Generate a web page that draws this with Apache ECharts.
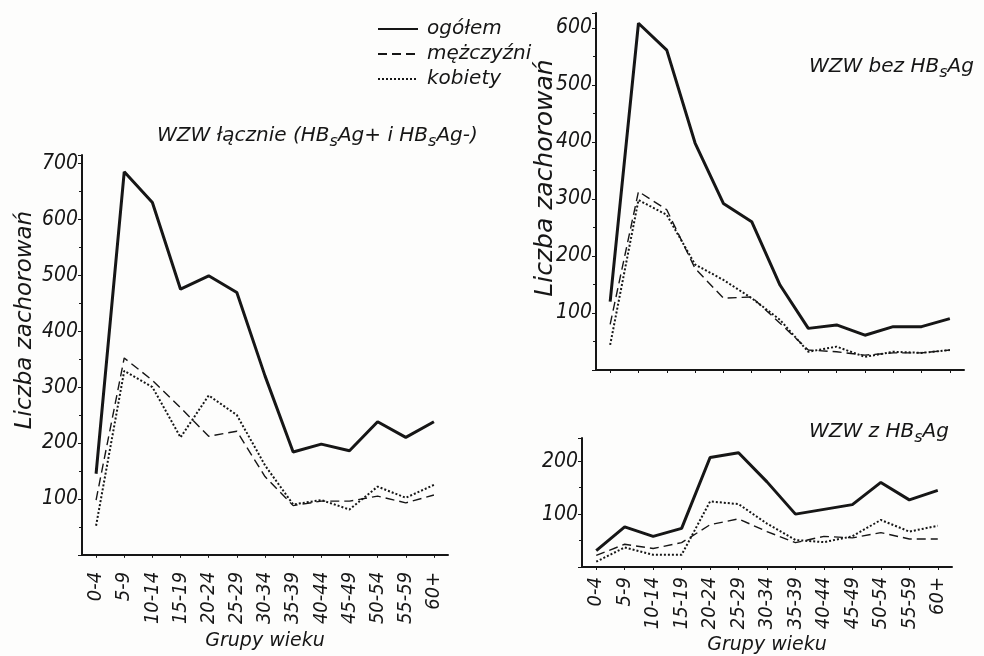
<!DOCTYPE html>
<html>
<head>
<meta charset="utf-8">
<script src="https://cdn.jsdelivr.net/npm/echarts@6/dist/echarts.min.js"></script>
<style>
  html, body { margin: 0; padding: 0; background: #fdfdfc; }
  #chart { width: 984px; height: 656px; }
</style>
</head>
<body>
<div id="chart"></div>
<script>
const ageGroups = ['0-4', '5-9', '10-14', '15-19', '20-24', '25-29', '30-34', '35-39', '40-44', '45-49', '50-54', '55-59', '60+']

// WZW łącznie
const totalAll = [145, 685, 630, 475, 499, 469, 320, 184, 198, 186, 238, 210, 238]
const menAll = [98, 352, 312, 263, 212, 221, 140, 88, 96, 96, 105, 93, 107]
const womenAll = [52, 329, 300, 210, 285, 250, 160, 90, 98, 81, 122, 102, 125]

// WZW bez HBsAg
const totalNeg = [120, 608, 561, 398, 292, 260, 149, 73, 79, 61, 76, 76, 90]
const menNeg = [80, 313, 281, 178, 126, 128, 82, 35, 32, 26, 30, 30, 35]
const womenNeg = [44, 298, 272, 185, 158, 126, 88, 32, 41, 23, 32, 30, 35]

// WZW z HBsAg
const totalPos = [31, 76, 58, 73, 207, 216, 161, 100, 109, 118, 160, 127, 145]
const menPos = [22, 43, 35, 46, 80, 91, 67, 46, 58, 55, 65, 53, 53]
const womenPos = [10, 37, 23, 23, 124, 119, 82, 51, 47, 58, 89, 67, 78]

const tickFont = '"Liberation Sans Narrow", "DejaVu Sans Condensed", sans-serif'
const textFont = '"DejaVu Sans", sans-serif'
const ink = '#161616'

const chart = echarts.init(document.getElementById('chart'))

const tickText = { fontFamily: tickFont, fontStyle: 'italic', color: ink }
const baseText = { fontFamily: textFont, fontStyle: 'italic', color: ink }

function xAxis(gridIndex, showLabels, withName, margin, nameGap) {
  return {
    type: 'category',
    gridIndex,
    data: ageGroups,
    boundaryGap: true,
    axisLine: { lineStyle: { color: ink, width: 2 } },
    axisTick: { show: true, alignWithLabel: true, length: 3, lineStyle: { color: ink } },
    axisLabel: {
      show: showLabels,
      rotate: 90,
      interval: 0,
      margin,
      fontSize: 20,
      ...tickText
    },
    name: withName ? 'Grupy wieku' : '',
    nameLocation: 'middle',
    nameGap,
    nameTextStyle: { fontSize: 19, ...baseText },
    splitLine: { show: false }
  }
}

function yAxis(gridIndex, max) {
  return {
    type: 'value',
    gridIndex,
    min: 0,
    max,
    interval: 100,
    axisLine: { show: true, lineStyle: { color: ink, width: 2 } },
    axisTick: { show: true, length: 4, lineStyle: { color: ink } },
    minorTick: { show: true, splitNumber: 2, length: 3, lineStyle: { color: ink } },
    axisLabel: {
      margin: 4,
      fontSize: 21,
      showMaxLabel: false,
      formatter: v => (v > 0 && v % 100 === 0 ? String(v) : ''),
      ...tickText
    },
    splitLine: { show: false }
  }
}

function lines(axisIndex, total, men, women) {
  return [
    {
      name: 'ogółem', type: 'line', xAxisIndex: axisIndex, yAxisIndex: axisIndex,
      data: total, symbol: 'none', silent: true,
      lineStyle: { color: ink, width: 3 }
    },
    {
      name: 'mężczyźni', type: 'line', xAxisIndex: axisIndex, yAxisIndex: axisIndex,
      data: men, symbol: 'none', silent: true,
      lineStyle: { color: ink, width: 1.4, type: [9, 5] }
    },
    {
      name: 'kobiety', type: 'line', xAxisIndex: axisIndex, yAxisIndex: axisIndex,
      data: women, symbol: 'none', silent: true,
      lineStyle: { color: ink, width: 2, type: [2, 2] }
    }
  ]
}

// rotated y axis name, placed by its centre
function yName(x, y, size) {
  return {
    type: 'text',
    x, y,
    rotation: Math.PI / 2,
    style: {
      text: 'Liczba zachorowań',
      font: `italic ${size}px ${textFont}`,
      fill: ink,
      align: 'center',
      verticalAlign: 'middle'
    },
    silent: true
  }
}

const sub = { fontSize: 16, verticalAlign: 'bottom', lineHeight: 28, ...baseText }
const titleStyle = { fontSize: 20, fontWeight: 'normal', lineHeight: 26, ...baseText, rich: { s: sub } }

chart.setOption({
  backgroundColor: '#fdfdfc',
  animation: false,
  title: [
    { text: 'WZW łącznie (HB{s|s}Ag+ i HB{s|s}Ag-)', left: 152, top: 117, textStyle: titleStyle },
    { text: 'WZW bez HB{s|s}Ag', left: 804, top: 48, textStyle: titleStyle },
    { text: 'WZW z HB{s|s}Ag', left: 804, top: 413, textStyle: titleStyle }
  ],
  legend: {
    orient: 'vertical',
    left: 372, top: 14,
    itemWidth: 40, itemHeight: 14, itemGap: 5,
    selectedMode: false,
    itemStyle: { opacity: 0 },
    textStyle: { fontSize: 20, padding: [0, 0, 0, 4], ...baseText },
    data: ['ogółem', 'mężczyźni', 'kobiety']
  },
  graphic: [yName(25, 320, 23), yName(545, 178, 25)],
  grid: [
    { left: 82, top: 155, width: 366, height: 408 },
    { left: 596, top: 13, width: 368, height: 357 },
    { left: 582, top: 438, width: 370, height: 134 }
  ],
  xAxis: [xAxis(0, true, true, 17, 66), xAxis(1, false, false, 10, 60), xAxis(2, true, true, 10, 69)],
  yAxis: [yAxis(0, 715), yAxis(1, 626), yAxis(2, 244)],
  series: [
    ...lines(0, totalAll, menAll, womenAll),
    ...lines(1, totalNeg, menNeg, womenNeg),
    ...lines(2, totalPos, menPos, womenPos)
  ]
})
</script>
</body>
</html>
